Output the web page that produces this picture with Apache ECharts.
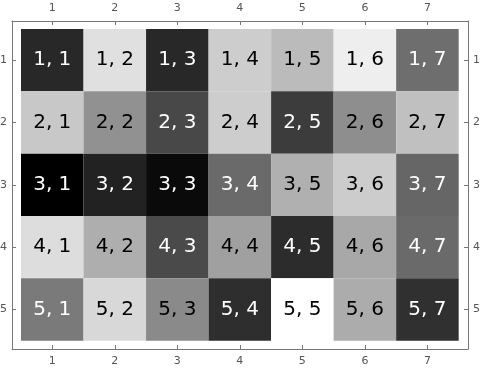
<!DOCTYPE html>
<html>
<head>
<meta charset="utf-8">
<style>html,body{margin:0;padding:0;background:#fff;}#c{width:480px;height:369px;}</style>
<script src="https://cdn.jsdelivr.net/npm/echarts@6/dist/echarts.min.js"></script>
</head>
<body>
<div id="c"></div>
<script>
const rowTicks = [1, 2, 3, 4, 5];
const colTicks = [1, 2, 3, 4, 5, 6, 7];
// cell gray level (0 = black, 255 = white), one array per row
const row1 = [40, 224, 40, 205, 187, 238, 110];
const row2 = [200, 145, 72, 205, 60, 142, 192];
const row3 = [0, 34, 10, 106, 176, 204, 102];
const row4 = [221, 174, 74, 160, 44, 168, 106];
const row5 = [122, 216, 138, 46, 255, 172, 48];
const rows = [row1, row2, row3, row4, row5];

const data = [];
rows.forEach((r, i) => r.forEach((v, j) => data.push([colTicks[j], rowTicks[i], v])));

const FONT = 'DejaVu Sans';
const axisColor = '#777';
const labelColor = '#555';

function axisBase(pos) {
  return {
    type: 'value',
    position: pos,
    axisLine: { show: true, onZero: false, lineStyle: { color: axisColor, width: 1 } },
    axisTick: { show: true, inside: true, length: 4, lineStyle: { color: axisColor } },
    axisLabel: { show: true, color: labelColor, fontFamily: FONT, fontSize: 11 },
    splitLine: { show: false }
  };
}

const xTop = Object.assign(axisBase('top'), { min: 0.356, max: 7.649 });
xTop.axisTick.customValues = colTicks; xTop.axisLabel.customValues = colTicks; xTop.axisLabel.margin = 7;
const xBot = Object.assign(axisBase('bottom'), { min: 0.356, max: 7.649 });
xBot.axisTick.customValues = colTicks; xBot.axisLabel.customValues = colTicks; xBot.axisLabel.margin = 7;
const yLeft = Object.assign(axisBase('left'), { min: 0.372, max: 5.633, inverse: true });
yLeft.axisTick.customValues = rowTicks; yLeft.axisLabel.customValues = rowTicks; yLeft.axisLabel.margin = 5;
const yRight = Object.assign(axisBase('right'), { min: 0.372, max: 5.633, inverse: true });
yRight.axisTick.customValues = rowTicks; yRight.axisLabel.customValues = rowTicks; yRight.axisLabel.margin = 5;

const chart = echarts.init(document.getElementById('c'), null, { renderer: 'canvas' });
chart.setOption({
  animation: false,
  backgroundColor: '#fff',
  grid: { left: 12, right: 12, top: 21, bottom: 20, containLabel: false, outerBoundsMode: 'none' },
  xAxis: [xTop, xBot],
  yAxis: [yLeft, yRight],
  visualMap: { show: false, type: 'continuous', min: 0, max: 255, dimension: 2, seriesIndex: 0,
    inRange: { color: ['#000000', '#ffffff'] } },
  series: [{
    type: 'custom',
    xAxisIndex: 0, yAxisIndex: 0,
    data: data,
    encode: { x: 0, y: 1 },
    renderItem: function (params, api) {
      const c = api.coord([api.value(0), api.value(1)]);
      const s = api.size([1, 1]);
      const v = api.value(2);
      return {
        type: 'rect',
        shape: { x: c[0] - s[0] / 2, y: c[1] - s[1] / 2, width: s[0], height: s[1] },
        style: { fill: api.visual('color') },
        textContent: {
          style: {
            text: api.value(1) + ', ' + api.value(0),
            fill: v < 130 ? '#ffffff' : '#000000',
            font: '20px "' + FONT + '"'
          }
        },
        textConfig: { position: 'inside' }
      };
    }
  }]
});
</script>
</body>
</html>
